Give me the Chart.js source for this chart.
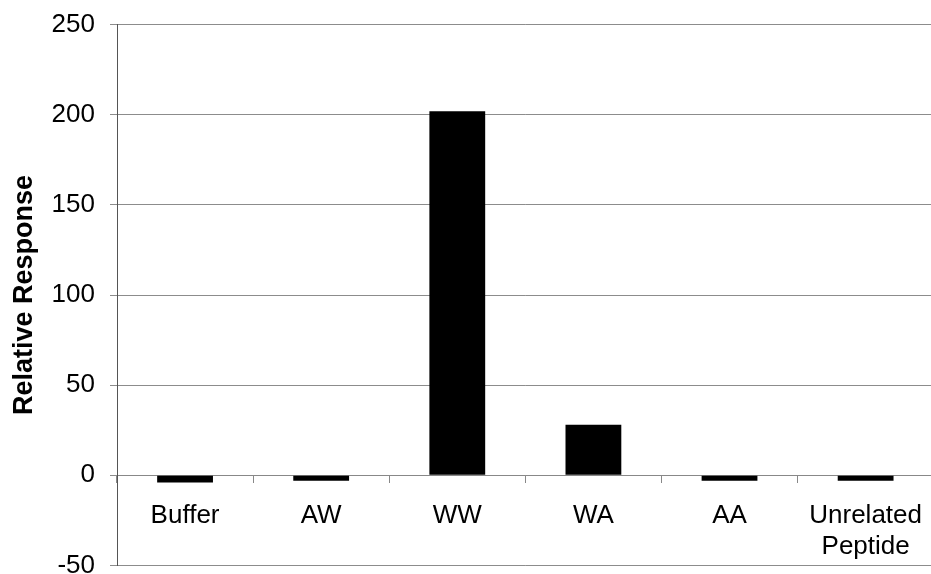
<!DOCTYPE html>
<html>
<head>
<meta charset="utf-8">
<script src="https://cdn.jsdelivr.net/npm/chart.js@4"></script>
<style>
  html, body { margin: 0; padding: 0; background: #fff; overflow: hidden; }
  #wrap { width: 940px; height: 602px; position: relative; margin-top: -6px; }
</style>
</head>
<body>
<div id="wrap"><canvas id="chart"></canvas></div>
<script>
// categories and values
const categories = ['Buffer', 'AW', 'WW', 'WA', 'AA', ['Unrelated', 'Peptide']];
const responses = [-4, -3, 202, 28, -3, -3];
const yTicks = [-50, 0, 50, 100, 150, 200, 250];

const fontFam = '"Liberation Sans", Arial, sans-serif';

new Chart(document.getElementById('chart').getContext('2d'), {
    type: 'bar',
    data: {
        labels: categories,
        datasets: [{
            data: responses,
            backgroundColor: '#000',
            borderWidth: 0,
            categoryPercentage: 1,
            barPercentage: 0.41
        }]
    },
    options: {
        responsive: true,
        maintainAspectRatio: false,
        animation: false,
        layout: { padding: 0 },
        plugins: {
            legend: { display: false },
            tooltip: { enabled: false }
        },
        scales: {
            x: {
                position: { y: 0 },
                offset: true,
                grid: {
                    offset: true,
                    drawOnChartArea: false,
                    tickLength: 7,
                    color: '#888'
                },
                border: { color: '#888', width: 1 },
                ticks: {
                    color: '#000',
                    padding: 18,
                    maxRotation: 0,
                    autoSkip: false,
                    font: { family: fontFam, size: 26 }
                }
            },
            y: {
                min: yTicks[0],
                max: yTicks[yTicks.length - 1],
                afterBuildTicks: (scale) => { scale.ticks = yTicks.map(v => ({ value: v })); },
                afterFit: (scale) => { scale.width = 117; },
                grid: { color: '#8c8c8c', tickLength: 7 },
                border: { color: '#555', width: 1 },
                ticks: {
                    color: '#000',
                    padding: 15,
                    font: { family: fontFam, size: 26 }
                },
                title: {
                    display: true,
                    text: 'Relative Response',
                    color: '#000',
                    padding: { top: 8, bottom: 4 },
                    font: { family: fontFam, size: 27, weight: 'bold' }
                }
            }
        }
    }
});
</script>
</body>
</html>
